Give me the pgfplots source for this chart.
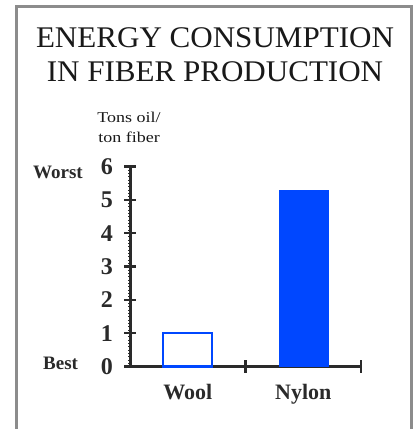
\documentclass[border=0pt]{standalone}
\usepackage{pgfplots}
\pgfplotsset{compat=1.18}
\usepackage{fontspec}
\setmainfont{Liberation Serif}
\definecolor{barblue}{HTML}{0047FF}
\definecolor{axisgray}{HTML}{2A2A2A}
\definecolor{framegray}{HTML}{8C8C8C}
\begin{document}
\begin{tikzpicture}[x=1bp,y=1bp]
\path[use as bounding box] (0,0) rectangle (420,429);
\clip (0,0) rectangle (420,429);
\fill[white] (0,0) rectangle (420,429);
\draw[framegray, line width=3bp] (16.5,-10) -- (16.5,422.5) -- (411.5,422.5) -- (411.5,-10);
\node[anchor=base, inner sep=0pt, font=\fontsize{30bp}{34bp}\selectfont, text=black!90] at (215,382) {\scalebox{1.035}[1]{ENERGY CONSUMPTION}};
\node[anchor=base, inner sep=0pt, font=\fontsize{30bp}{34bp}\selectfont, text=black!90] at (215,348) {\scalebox{1.035}[1]{IN FIBER PRODUCTION}};
\node[anchor=base, inner sep=0pt, font=\fontsize{15bp}{18bp}\selectfont, text=black!90] at (129,307) {\scalebox{1.2}[1]{Tons oil/}};
\node[anchor=base, inner sep=0pt, font=\fontsize{15bp}{18bp}\selectfont, text=black!90] at (129,287) {\scalebox{1.2}[1]{ton fiber}};
\node[anchor=base west, inner sep=0pt, font=\bfseries\fontsize{19bp}{22bp}\selectfont, text=axisgray] at (33,251) {Worst};
\node[anchor=base west, inner sep=0pt, font=\bfseries\fontsize{19bp}{22bp}\selectfont, text=axisgray] at (43,60) {Best};
\begin{axis}[
  at={(130bp,62.5bp)}, anchor=south west, scale only axis,
  width=231bp, height=200bp,
  xmin=-0.5, xmax=1.5, ymin=0, ymax=6,
  axis x line=bottom, axis y line=left,
  axis line style={-, line width=3bp, axisgray},
  ytick={0,1,2,3,4,5,6},
  minor y tick num=9,
  tick align=center,
  major tick length=12bp,
  minor tick length=4bp,
  major tick style={line width=2.5bp, axisgray},
  minor tick style={line width=0.6bp, axisgray},
  /pgf/number format/assume math mode=true,
  yticklabel style={font=\bfseries\fontsize{24bp}{24bp}\selectfont, text=axisgray, inner sep=0pt, anchor=east, xshift=-11bp},
  xtick={0.5,1.5},
  xticklabels={},
  extra x ticks={0,1},
  extra x tick labels={Wool,Nylon},
  extra x tick style={major tick length=0pt, xticklabel style={font=\bfseries\fontsize{22bp}{22bp}\selectfont, text=axisgray, inner sep=0pt, anchor=north, yshift=-18bp}},
  clip=false,
]
\addplot[ybar, bar shift=0pt, bar width=49bp, draw=barblue, fill=white, line width=2bp] coordinates {(0,1)};
\addplot[ybar, bar shift=0pt, bar width=49bp, draw=barblue, fill=barblue, line width=0.5bp] coordinates {(1,5.3)};
\end{axis}
\end{tikzpicture}
\end{document}
